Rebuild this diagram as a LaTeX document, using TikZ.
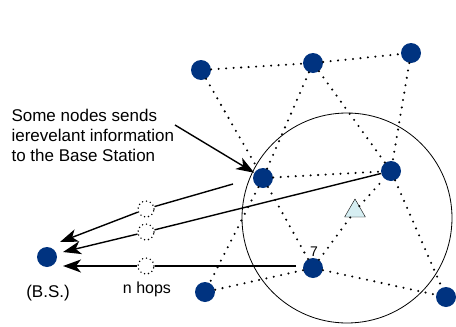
\documentclass[tikz,border=0pt]{standalone}
\usepackage{fontspec}
\setmainfont{Liberation Sans}
\usetikzlibrary{arrows.meta,shapes.geometric}
\definecolor{nodeblue}{RGB}{0,51,128}
\definecolor{hubcyan}{RGB}{214,238,242}
\begin{document}
\begin{tikzpicture}[x=1pt,y=-1pt,
           node_style/.style={circle,fill=nodeblue,minimum size=20pt,inner sep=0pt},
           relay_style/.style={circle,draw=black,line width=1.6pt,dash pattern=on 0pt off 4pt,line cap=round,fill=white,minimum size=16pt,inner sep=0pt},
           edge_style/.style={draw=black,line width=2.3pt,dash pattern=on 0pt off 7.5pt,line cap=round},
           arrow_style/.style={draw=black,line width=1.4pt,-{Stealth[length=18pt,width=13pt,inset=5pt]}},
           label_style/.style={font=\fontsize{17}{20}\selectfont}]
            \useasboundingbox (0,0) rectangle (456,327);
            \node[draw,circle,line width=0.8pt,minimum size=210pt,inner sep=0pt] (range) at (347,218) {};
            \node[node_style] (bs) at (47, 257)  {};
            \node[node_style] (v1) at (201, 70)  {};
            \node[node_style] (v2) at (313, 63)  {};
            \node[node_style] (v3) at (411, 53)  {};
            \node[node_style] (v4) at (263, 178) {};
            \node[node_style] (v5) at (391, 171) {};
            \node[node_style] (v6) at (313, 268) {};
            \node[node_style] (v7) at (205, 292) {};
            \node[node_style] (v8) at (446, 297) {};
            \node[regular polygon,regular polygon sides=3,draw=black,fill=hubcyan,minimum size=24pt,inner sep=0pt] (hub) at (355, 211) {};
            \node[relay_style] (r1) at (146, 209) {};
            \node[relay_style] (r2) at (146, 232) {};
            \node[relay_style] (r3) at (146, 266) {};
            \coordinate (s1) at (233, 184);
            \coordinate (s3) at (296, 266);
            \coordinate (t1) at (60, 242);
            \coordinate (t2) at (63, 252);
            \coordinate (t3) at (63, 266);
            \coordinate (a0) at (175, 125);
            \draw[edge_style]  (v1) edge node{} (v2);
            \draw[edge_style]  (v2) edge node{} (v3);
            \draw[edge_style]  (v1) edge node{} (v4);
            \draw[edge_style]  (v2) edge node{} (v4);
            \draw[edge_style]  (v2) edge node{} (v5);
            \draw[edge_style]  (v3) edge node{} (v5);
            \draw[edge_style]  (v4) edge node{} (v5);
            \draw[edge_style]  (v4) edge node{} (v6);
            \draw[edge_style]  (v4) edge node{} (v7);
            \draw[edge_style]  (v6) edge node{} (v7);
            \draw[edge_style]  (v6) edge node{} (v8);
            \draw[edge_style]  (v5) edge node{} (v8);
            \draw[edge_style]  (v6) edge node{} (hub);
            \draw[edge_style]  (hub) edge node{} (v5);
            \draw[arrow_style] (s1) -- (r1) -- (t1);
            \draw[arrow_style] (v5) -- (r2) -- (t2);
            \draw[arrow_style] (s3) -- (r3) -- (t3);
            \node[label_style,align=left,anchor=north west] (note) at (8, 106) {Some nodes sends\\ierevelant information\\to the Base Station};
            \draw[arrow_style] (a0) -- (v4);
            \node[label_style,anchor=base] (bslabel) at (48, 297) {(B.S.)};
            \node[font=\fontsize{16}{18}\selectfont,anchor=base] (hops) at (147, 293) {n hops};
            \node[font=\fontsize{14}{16}\selectfont,anchor=base] (num) at (314, 256) {7};
        \end{tikzpicture}
\end{document}
